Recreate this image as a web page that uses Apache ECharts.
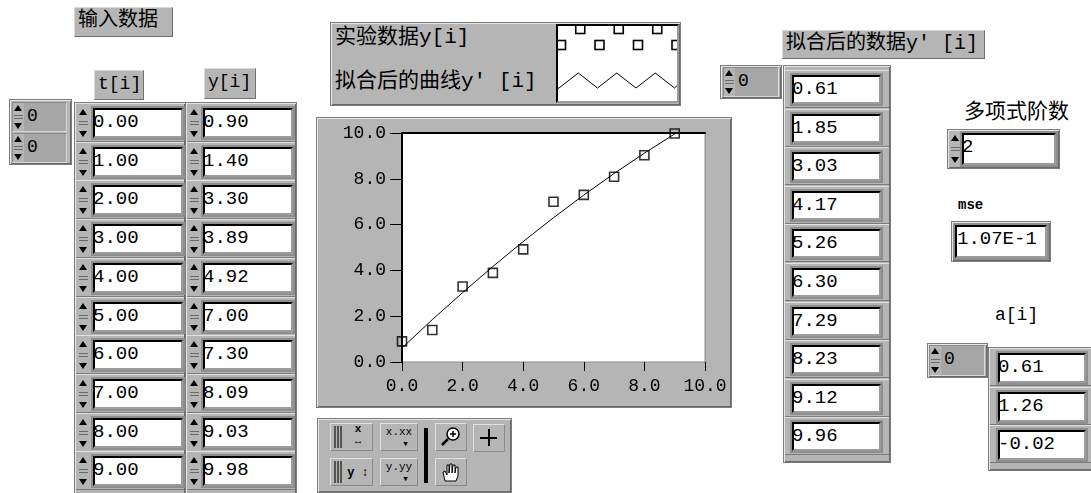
<!DOCTYPE html>
<html lang="zh">
<head>
<meta charset="UTF-8">
<title>多项式拟合</title>
<style>
    *{margin:0;padding:0;box-sizing:border-box;}
    body{width:1091px;height:493px;overflow:hidden;background:#fff;position:relative;
        font-family:"Liberation Mono","Noto Sans CJK SC",monospace;color:#000;}
    div{position:absolute;}
    .lbl{background:#b5b5b5;border:1px solid #707070;border-top-color:#d8d8d8;border-left-color:#d8d8d8;
        font-size:20px;line-height:26px;padding-left:3px;white-space:nowrap;}
    .frame{background:#b5b5b5;border:1px solid #7c7c7c;box-shadow:inset 1px 1px 0 #e6e6e6,inset -1px -1px 0 #6a6a6a;}
    .cell{background:#b5b5b5;border-top:1px solid #e2e2e2;border-bottom:1px solid #7a7a7a;}
    .num{background:#fff;border-top:2px solid #000;border-left:2px solid #000;border-right:2px solid #9c9c9c;
        border-bottom:2px solid #9c9c9c;box-shadow:0 0 0 2px #8e8e8e;font-size:19px;line-height:25px;white-space:nowrap;}
    .idx{background:#a6a6a6;border-top:1px solid #8a8a8a;border-left:1px solid #8a8a8a;border-right:1px solid #d8d8d8;
        border-bottom:1px solid #d8d8d8;font-size:18px;line-height:26px;padding-left:14px;}
    .up,.dn{width:0;height:0;border-left:4px solid transparent;border-right:4px solid transparent;}
    .up{border-bottom:6px solid #000;}
    .dn{border-top:6px solid #000;}
    .btn{background:#b5b5b5;border:1px solid #8a8a8a;border-top-color:#e0e0e0;border-left-color:#e0e0e0;
        font-size:11px;line-height:12px;text-align:center;}
</style>
</head>
<body>
<div id="panel" style="left:0;top:0;width:1091px;height:493px;"></div>
<div class="frame" style="left:316px;top:117px;width:416px;height:291px;"></div>
<div id="graph" style="left:316px;top:117px;width:415px;height:290px;"></div>
<script src="https://cdn.jsdelivr.net/npm/echarts@6/dist/echarts.min.js"></script>
<script>
    // 实验数据
    var t = [0, 1, 2, 3, 4, 5, 6, 7, 8, 9];
    var yData = [0.90, 1.40, 3.30, 3.89, 4.92, 7.00, 7.30, 8.09, 9.03, 9.98];
    // 拟合结果
    var yFit = [0.61, 1.85, 3.03, 4.17, 5.26, 6.30, 7.29, 8.23, 9.12, 9.96];
    var coef = [0.61, 1.26, -0.02];
    var order = 2;
    var mse = '1.07E-1';
    var axisMin = 0, axisMax = 10, axisStep = 2;

    var panel = document.getElementById('panel');

    function el(cls, x, y, w, h, text, style){
        var d = document.createElement('div');
        if(cls) d.className = cls;
        d.style.left = x + 'px';
        d.style.top = y + 'px';
        if(w) d.style.width = w + 'px';
        if(h) d.style.height = h + 'px';
        if(text !== undefined) d.textContent = text;
        if(style) d.style.cssText += style;
        panel.appendChild(d);
        return d;
    }

    function arrows(x, y, h){
        el('', x, y, 11, h, undefined, 'background:#b5b5b5;');
        el('up', x + 1, y + 2, 0, 0);
        el('', x + 1, y + h/2 - 2, 9, 1, undefined, 'background:#6a6a6a;');
        el('', x + 1, y + h/2 + 1, 9, 1, undefined, 'background:#6a6a6a;');
        el('dn', x + 1, y + h - 8, 0, 0);
    }

    function indexCtl(x, y, w, h){
        el('idx', x, y, w, h, '0');
        arrows(x + 1, y + 1, h - 2);
    }

    // 左侧：输入数据
    el('lbl', 74, 7, 99, 30, '输入数据');
    el('lbl', 94, 70, 50, 30, 't[i]', 'font-size:18px;');
    el('lbl', 204, 68, 52, 31, 'y[i]', 'font-size:18px;');
    el('frame', 9, 99, 63, 66);
    indexCtl(12, 102, 55, 30);
    indexCtl(12, 133, 55, 30);
    el('frame', 74, 102, 112, 400);
    el('frame', 185, 102, 112, 400);
    t.forEach(function(v, i){
        var top = Math.round(108 + i * 38.7);
        el('cell', 76, top - 5, 108, 39);
        el('cell', 187, top - 5, 108, 39);
        arrows(78, top - 1, 32);
        el('num', 93, top, 90, 30, v.toFixed(2), 'text-indent:-2px;');
        arrows(189, top - 1, 32);
        el('num', 203, top, 90, 30, yData[i].toFixed(2), 'text-indent:-2px;');
    });

    // 图例
    el('frame', 330, 22, 351, 84);
    el('', 335, 24, 220, 28, '实验数据y[i]', 'font-size:21px;line-height:28px;white-space:nowrap;');
    el('', 335, 68, 220, 28, '拟合后的曲线y′ [i]', 'font-size:21px;line-height:28px;white-space:nowrap;');
    var sw = el('', 556, 24, 123, 79, undefined,
        'background:#fff;border-left:2px solid #000;border-top:2px solid #000;border-right:2px solid #9c9c9c;border-bottom:2px solid #9c9c9c;overflow:hidden;');
    var svg = '<svg width="121" height="77" xmlns="http://www.w3.org/2000/svg">';
    var p = 19.25, pts = [];
    for(var k = 0; k < 7; k++){
        var cx = 3 + k * p, cy = (k % 2) ? 3 : 19;
        svg += '<rect x="' + (cx - 4.5) + '" y="' + (cy - 4.5) + '" width="9" height="9" fill="none" stroke="#000" stroke-width="1.6"/>';
        pts.push(cx - 2 + ',' + ((k % 2) ? 47 : 62));
    }
    svg += '<polyline points="-2,63 ' + pts.join(' ') + ' 124,55" fill="none" stroke="#000" stroke-width="1"/></svg>';
    sw.innerHTML = svg;

    // 工具面板
    el('frame', 317, 418, 195, 75);
    el('btn', 330, 423, 43, 28, '', 'text-align:left;');
    el('', 334, 426, 8, 22, undefined, 'border-left:2px solid #555;border-right:2px solid #555;');
    el('', 337, 426, 2, 22, undefined, 'background:#555;');
    el('', 344, 423, 28, 28, 'x\n↔', 'font-size:11px;line-height:12px;white-space:pre;text-align:center;font-weight:bold;');
    el('btn', 330, 458, 43, 28);
    el('', 334, 461, 8, 22, undefined, 'border-left:2px solid #555;border-right:2px solid #555;');
    el('', 337, 461, 2, 22, undefined, 'background:#555;');
    el('', 344, 460, 28, 28, 'y ↕', 'font-size:12px;line-height:26px;white-space:pre;text-align:center;font-weight:bold;');
    el('btn', 380, 423, 38, 28, 'x.xx\n  ▾', 'white-space:pre;line-height:12px;padding-top:2px;');
    el('btn', 380, 458, 38, 28, 'y.yy\n  ▾', 'white-space:pre;line-height:12px;padding-top:2px;');
    el('', 424, 428, 4, 55, undefined, 'background:#000;');
    var zb = el('btn', 435, 423, 32, 28);
    zb.innerHTML = '<svg width="30" height="26"><circle cx="17" cy="10" r="6" fill="#fff" stroke="#000" stroke-width="1.5"/>' +
        '<path d="M14 10h6M17 7v6" stroke="#000" stroke-width="1.5"/><path d="M12 15l-6 6" stroke="#000" stroke-width="2.5"/></svg>';
    el('btn', 473, 424, 32, 28);
    el('', 480, 437, 17, 2, undefined, 'background:#000;');
    el('', 488, 429, 2, 17, undefined, 'background:#000;');
    var hb = el('btn', 435, 458, 32, 28);
    hb.innerHTML = '<svg width="30" height="26"><path d="M9 22 L7 13 L9 12 L11 16 L11 6 L13 6 L13 14 L14 5 L16 5 L16 14 L17 6 L19 6 L19 14 L20 8 L22 8 L22 17 L20 22 Z" fill="#fff" stroke="#000" stroke-width="1"/></svg>';

    // 右侧：拟合后的数据
    el('lbl', 782, 30, 203, 29, '拟合后的数据y′ [i]');
    el('frame', 720, 65, 62, 34);
    indexCtl(723, 67, 56, 30);
    el('frame', 783, 65, 108, 398);
    yFit.forEach(function(v, i){
        var top = Math.round(75 + i * 38.6);
        el('cell', 785, top - 5, 104, 38);
        el('num', 792, top, 89, 29, v.toFixed(2), 'text-indent:-2px;');
    });

    el('', 964, 99, 130, 28, '多项式阶数', 'font-size:21px;line-height:28px;white-space:nowrap;');
    el('frame', 947, 129, 113, 40);
    arrows(950, 133, 32);
    el('num', 962, 133, 94, 32, String(order), 'text-indent:-2px;');
    el('', 958, 195, 50, 20, 'mse', 'font-size:14px;line-height:20px;font-weight:bold;');
    el('frame', 951, 221, 100, 41);
    el('num', 955, 225, 92, 33, mse);
    el('', 995, 302, 60, 26, 'a[i]', 'font-size:18px;line-height:26px;');
    el('frame', 927, 343, 61, 35);
    indexCtl(929, 345, 56, 31);
    el('frame', 988, 347, 110, 124);
    coef.forEach(function(v, i){
        var top = Math.round(353 + i * 38.5);
        el('cell', 990, top - 5, 106, 38);
        el('num', 998, top, 88, 30, v.toFixed(2), 'text-indent:-2px;');
    });

    // 曲线图
    var chart = echarts.init(document.getElementById('graph'));
    var labelFont = {fontFamily: '"Liberation Mono", monospace', fontSize: 18, color: '#000'};
    var option = {
        animation: false,
        grid: {left: 86, top: 16, width: 303, height: 229, show: true, backgroundColor: '#fff',
            borderColor: '#8a8a8a', borderWidth: 1},
        xAxis: [{
            type: 'value', min: axisMin, max: axisMax, interval: axisStep, offset: 3,
            axisLine: {show: false},
            axisTick: {show: true, length: 9, lineStyle: {color: '#000', width: 1}},
            axisLabel: Object.assign({margin: 12, formatter: function(v){ return v.toFixed(1); }}, labelFont),
            splitLine: {show: false}
        }, {
            type: 'value', min: axisMin, max: axisMax, position: 'top',
            axisLine: {show: true, lineStyle: {color: '#000', width: 2}},
            axisTick: {show: false}, axisLabel: {show: false}, splitLine: {show: false}
        }],
        yAxis: {
            type: 'value', min: axisMin, max: axisMax, interval: axisStep,
            axisLine: {show: true, lineStyle: {color: '#000', width: 2}},
            axisTick: {show: true, length: 12, lineStyle: {color: '#000', width: 1}},
            axisLabel: Object.assign({margin: 16, formatter: function(v){ return v.toFixed(1); }}, labelFont),
            splitLine: {show: false}
        },
        series: [{
            name: '拟合后的曲线y′[i]',
            type: 'line',
            data: t.map(function(v, i){ return [v, yFit[i]]; }),
            symbol: 'none',
            lineStyle: {color: '#000', width: 1},
            z: 2
        }, {
            name: '实验数据y[i]',
            type: 'scatter',
            data: t.map(function(v, i){ return [v, yData[i]]; }),
            symbol: 'rect',
            symbolSize: 9,
            itemStyle: {color: 'rgba(255,255,255,0)', borderColor: '#000', borderWidth: 1.6},
            z: 3
        }]
    };
    chart.setOption(option);
</script>
</body>
</html>
